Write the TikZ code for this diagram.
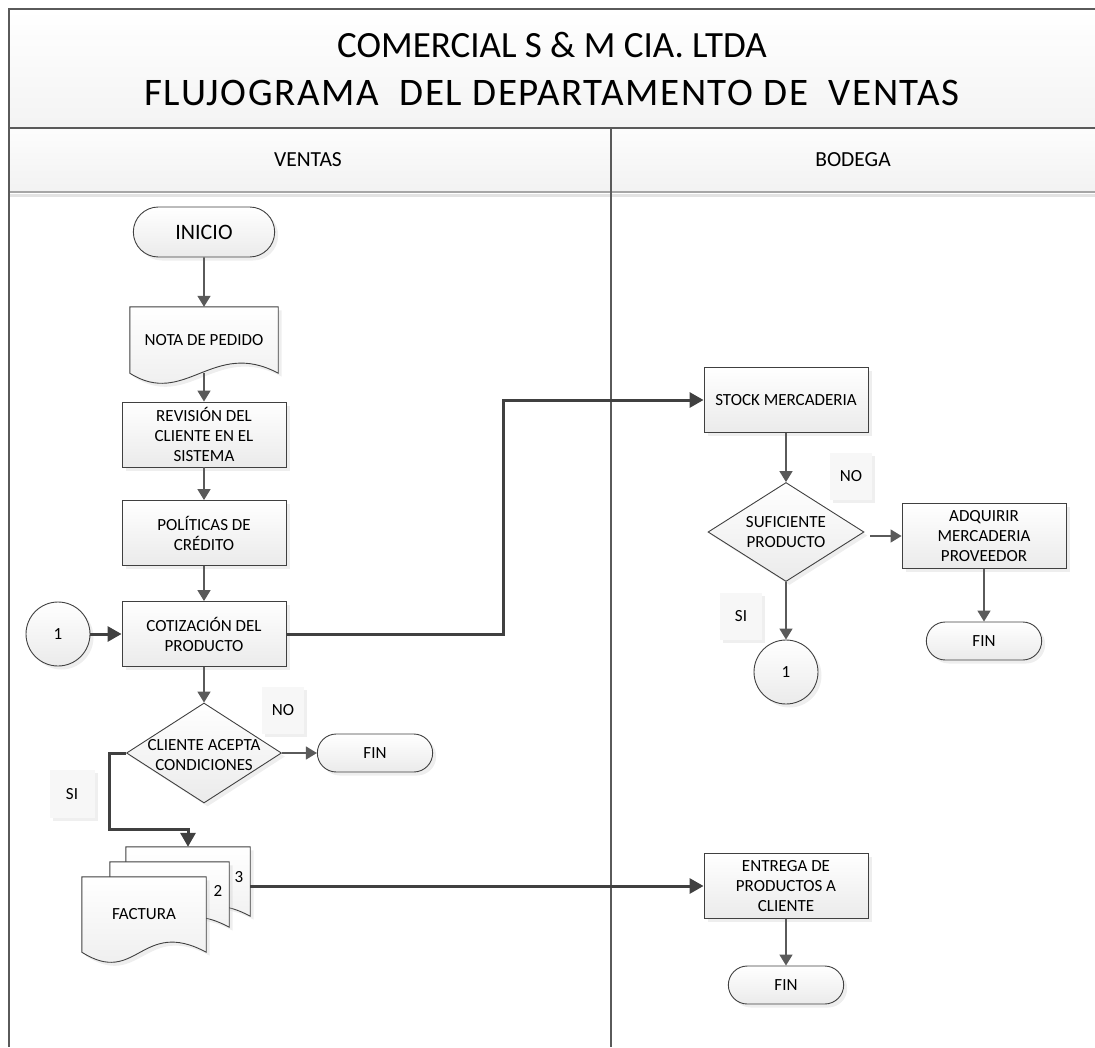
\documentclass[tikz,border=0pt]{standalone}
\usepackage{fontspec}
\setmainfont{Carlito}
\usetikzlibrary{shapes.geometric,shapes.misc,arrows.meta,shadows}
\definecolor{edge}{HTML}{404040}
\definecolor{lane}{HTML}{5A5A5A}
\pgfdeclarelayer{back}
\pgfsetlayers{back,main}
\newcommand{\docout}[1]{%
  \begin{pgfonlayer}{back}
  \path[docline] (#1.north west) -- (#1.north east) -- (#1.south east)
    .. controls +(-65,-35) and +(55,35) .. (#1.south west) -- cycle;
  \end{pgfonlayer}}

\begin{document}
\begin{tikzpicture}[x=1pt,y=-1pt,>={Triangle[length=11pt,width=13pt]},node distance=100pt,
  font=\fontsize{17}{20}\selectfont,
  grad/.style={top color=white,bottom color=gray!16},
  shdw/.style={drop shadow={shadow xshift=3.5pt,shadow yshift=-3.5pt,fill=gray!45,opacity=0.3}},
  proc/.style={rectangle,draw=edge,line width=0.9pt,grad,shdw,inner sep=2pt,minimum width=164pt,minimum height=65pt,align=center},
  term/.style={rounded rectangle,draw=edge,line width=0.9pt,grad,shdw,minimum width=122pt,minimum height=38pt},
  decis/.style={diamond,draw=edge,line width=0.9pt,grad,shdw,inner sep=0pt,minimum width=155pt,minimum height=100pt},
  conn/.style={circle,draw=edge,line width=0.9pt,grad,shdw,minimum size=64pt},
  tag/.style={fill=gray!6,drop shadow={shadow xshift=3pt,shadow yshift=-3pt,fill=gray!25,opacity=0.5},minimum width=42pt,minimum height=47pt},
  docbox/.style={minimum width=148pt,minimum height=66pt,align=center},
  docline/.style={draw=edge,line width=0.9pt,grad,shdw},
  flow/.style={->,draw=lane,line width=1.6pt},
  link/.style={-{Triangle[length=14pt,width=15pt]},draw=edge,line width=3pt}]
\useasboundingbox (0,0) rectangle (1095,1047);

\fill[top color=white,bottom color=gray!9] (9,9) rectangle (1095,128);
\fill[top color=gray!2,bottom color=gray!10] (9,128) rectangle (1095,191);
\draw[gray!22,line width=3pt] (9,195) -- (1095,195);
\draw[gray!70,line width=2.5pt] (9,192) -- (1095,192);
\draw[lane,line width=1.2pt] (1095,9) -- (9,9) -- (9,1047);
\draw[lane,line width=1.2pt] (9,128) -- (1095,128);
\draw[lane,line width=1.2pt] (611,128) -- (611,1047);

\node[align=center,font=\fontsize{37}{48}\selectfont] (title) at (552,69) {COMERCIAL S \& M CIA. LTDA\\{\fontsize{39}{48}\selectfont\addfontfeature{LetterSpace=4}FLUJOGRAMA\ \ DEL DEPARTAMENTO DE\ \ VENTAS}};
\node[font=\fontsize{21.5}{26}\selectfont] (ventas) at (308,160) {VENTAS};
\node[font=\fontsize{21.5}{26}\selectfont] (bodega) at (853,160) {BODEGA};

\node[term,minimum width=148pt,minimum height=50pt,font=\fontsize{22}{26}\selectfont] (inicio) at (204,232) {INICIO};
\node[docbox,below of=inicio,yshift=-8pt] (nota) {NOTA DE PEDIDO};
\docout{nota}
\node[proc,below of=nota,yshift=5.5pt] (rev) {REVISIÓN DEL\\CLIENTE EN EL\\SISTEMA};
\node[proc,below of=rev,yshift=1.5pt] (pol) {POLÍTICAS DE\\CRÉDITO};
\node[proc,below of=pol,yshift=-1pt] (coti) {COTIZACIÓN DEL\\PRODUCTO};
\node[conn,left of=coti,xshift=-46pt] (uno) {1};
\node[decis,below of=coti,yshift=-19pt,label={[align=center,yshift=-2pt]center:CLIENTE ACEPTA\\CONDICIONES}] (acepta) {};
\node[term,right of=acepta,xshift=71pt] (fina) {FIN};
\node[tag] (noa) at (283,710) {NO};
\node[tag,minimum width=45pt,minimum height=48pt] (sia) at (72,794) {SI};

\node[docbox,minimum width=124pt,minimum height=69pt] (fac3) at (188,881.5) {};
\node[docbox,minimum width=119pt,minimum height=65pt] (fac2) at (169.5,894.5) {};
\node[docbox,minimum width=124pt,minimum height=75pt] (fact) at (144,914.5) {FACTURA};
\docout{fac3}
\docout{fac2}
\docout{fact}
\node (num3) at (239,877) {3};
\node (num2) at (218,891) {2};

\node[proc] (stock) at (786,400) {STOCK MERCADERIA};
\node[decis,below of=stock,yshift=-32pt,minimum width=156pt,minimum height=99pt,label={[align=center]center:SUFICIENTE\\PRODUCTO}] (sufi) {};
\node[proc,right of=sufi,xshift=98pt,yshift=-4pt] (adq) {ADQUIRIR\\MERCADERIA\\PROVEEDOR};
\node[term,below of=adq,yshift=-5pt] (finb) {FIN};
\node[conn,below of=sufi,yshift=-40pt] (unob) {1};
\node[tag] (nob) at (851,476) {NO};
\node[tag] (sib) at (741,616) {SI};
\node[proc] (entrega) at (786,886) {ENTREGA DE\\PRODUCTOS A\\CLIENTE};
\node[term,below of=entrega,yshift=1pt] (finc) {FIN};

\draw[flow] (inicio) -- (nota);
\draw[flow] (nota.south) -- (rev);
\draw[flow] (rev) -- (pol);
\draw[flow] (pol) -- (coti);
\draw[link] (uno) -- (coti);
\draw[flow] (coti) -- (acepta);
\draw[flow] (acepta) -- (fina);
\draw[link] (coti.east) -- ++(217,0) |- (stock.west);
\draw[link] (acepta.west) -- ++(-17,0) |- ([yshift=17pt]fac3.north) -- (fac3.north);
\draw[link] ([yshift=-4.5pt]fac3.east) -- (entrega.west);
\draw[flow] (entrega) -- (finc);
\draw[flow] (stock) -- (sufi);
\draw[flow,shorten <=6pt] (adq.west -| sufi.east) -- (adq.west);
\draw[flow] (sufi) -- (unob);
\draw[flow] (adq) -- (finb);

\end{tikzpicture}
\end{document}
